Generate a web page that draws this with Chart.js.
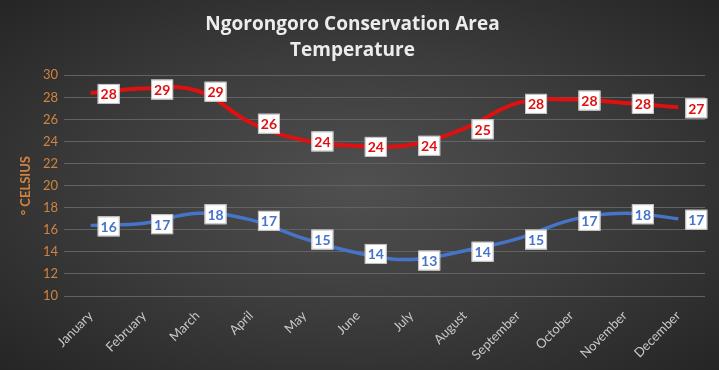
<!DOCTYPE html>
<html>
<head>
<meta charset="utf-8">
<script src="https://cdn.jsdelivr.net/npm/chart.js@4.4.1/dist/chart.umd.min.js"></script>
<style>
  body { margin: 0; background: #222; }
  #wrap {
    width: 719px; height: 370px; position: relative;
    background: radial-gradient(ellipse at 50% 50%, #505050 0%, #3c3c3c 50%, #252525 100%);
  }
</style>
</head>
<body>
<div id="wrap"><canvas id="tempChart"></canvas></div>
<script>
const months = ["January", "February", "March", "April", "May", "June",
    "July", "August", "September", "October", "November", "December"];
const highTemps = [28.4, 28.8, 28.6, 25.7, 24.1, 23.6, 23.7, 25.2, 27.5, 27.8, 27.5, 27.1];
const lowTemps = [16.4, 16.6, 17.5, 16.9, 15.2, 13.9, 13.3, 14.1, 15.2, 16.9, 17.5, 17.0];
const yTicks = [10, 12, 14, 16, 18, 20, 22, 24, 26, 28, 30];

const ORANGE = '#d0843f';

// cajitas blancas con el valor redondeado, a la derecha de cada punto
const boxLabels = {
    id: 'boxLabels',
    afterDatasetsDraw(chart) {
        const ctx = chart.ctx;
        ctx.save();
        ctx.font = 'bold 14px Lato, "Open Sans", sans-serif';
        ctx.textAlign = 'center';
        ctx.textBaseline = 'middle';
        chart.data.datasets.forEach((ds, i) => {
            const meta = chart.getDatasetMeta(i);
            meta.data.forEach((pt, j) => {
                const txt = String(Math.round(ds.data[j]));
                const cx = pt.x + 18;
                const cy = pt.y + 1;
                const w = 22, h = 20;
                ctx.fillStyle = '#ffffff';
                ctx.fillRect(cx - w / 2, cy - h / 2, w, h);
                ctx.strokeStyle = '#bfbfbf';
                ctx.lineWidth = 1;
                ctx.strokeRect(cx - w / 2 + 0.5, cy - h / 2 + 0.5, w - 1, h - 1);
                ctx.fillStyle = ds.borderColor;
                ctx.fillText(txt, cx, cy + 1);
            });
        });
        ctx.restore();
    }
};

new Chart(document.getElementById('tempChart'), {
    type: 'line',
    data: {
        labels: months,
        datasets: [{
            label: 'High',
            data: highTemps,
            borderColor: '#e01010',
            borderWidth: 4,
            pointRadius: 0,
            tension: 0.4
        }, {
            label: 'Low',
            data: lowTemps,
            borderColor: '#4674c8',
            borderWidth: 3.5,
            pointRadius: 0,
            tension: 0.4
        }]
    },
    options: {
        responsive: true,
        maintainAspectRatio: false,
        animation: false,
        layout: { padding: { left: 0, right: 14, top: 12, bottom: 0 } },
        plugins: {
            legend: { display: false },
            tooltip: { enabled: false },
            title: {
                display: true,
                text: ['Ngorongoro Conservation Area', 'Temperature'],
                color: '#ececec',
                font: { family: '"Open Sans", Lato, sans-serif', size: 19, weight: 'bold', lineHeight: 1.35 },
                padding: { top: 0, bottom: 12 }
            }
        },
        scales: {
            x: {
                offset: true,
                grid: { display: false },
                border: { display: false },
                ticks: {
                    color: '#c8c8c8',
                    font: { family: 'Lato, "Open Sans", sans-serif', size: 13 },
                    maxRotation: 45,
                    minRotation: 45,
                    padding: 4
                },
                afterFit(scale) { scale.height = 74; }
            },
            y: {
                min: 10,
                max: 30,
                afterBuildTicks(scale) { scale.ticks = yTicks.map(v => ({ value: v })); },
                grid: { color: '#626262', lineWidth: 1, drawTicks: false },
                border: { display: false },
                ticks: {
                    color: ORANGE,
                    font: { family: 'Lato, "Open Sans", sans-serif', size: 13 },
                    padding: 6
                },
                title: {
                    display: true,
                    text: '° CELSIUS',
                    color: ORANGE,
                    font: { family: 'Lato, "Open Sans", sans-serif', size: 13, weight: 'bold' },
                    padding: { top: 18, bottom: 0 }
                },
                afterFit(scale) { scale.width = 64; }
            }
        }
    },
    plugins: [boxLabels]
});
</script>
</body>
</html>
